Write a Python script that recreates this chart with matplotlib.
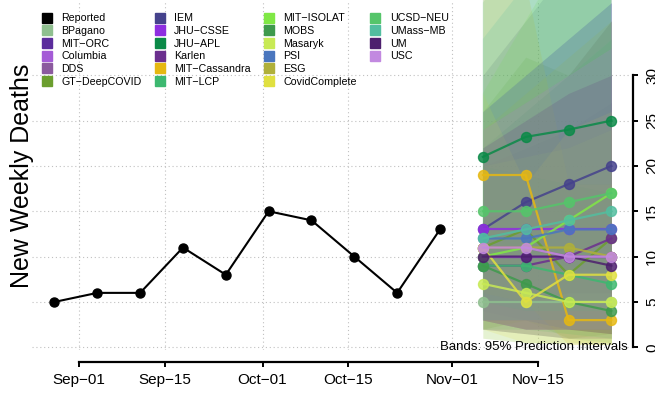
import numpy as np
import matplotlib
matplotlib.use("Agg")
import matplotlib.pyplot as plt
import matplotlib.dates as mdates
from matplotlib.lines import Line2D

plt.rcParams['font.family'] = ['Liberation Sans', 'DejaVu Sans']

# observed weekly deaths
obs_dates = np.array(['2020-08-28', '2020-09-04', '2020-09-11', '2020-09-18', '2020-09-25',
                      '2020-10-02', '2020-10-09', '2020-10-16', '2020-10-23', '2020-10-30'],
                     dtype='datetime64[D]')
obs_vals = [5, 6, 6, 11, 8, 15, 14, 10, 6, 13]

# forecast horizon
fc_dates = np.array(['2020-11-06', '2020-11-13', '2020-11-20', '2020-11-27'], dtype='datetime64[D]')

models = ['BPagano', 'MIT\u2212ORC', 'Columbia', 'DDS', 'GT\u2212DeepCOVID', 'IEM', 'JHU\u2212CSSE',
          'JHU\u2212APL', 'Karlen', 'MIT\u2212Cassandra', 'MIT\u2212LCP', 'MIT\u2212ISOLAT', 'MOBS',
          'Masaryk', 'PSI', 'ESG', 'CovidComplete', 'UCSD\u2212NEU', 'UMass\u2212MB', 'UM', 'USC']

colors = ['#8FBF8F', '#5B2C9C', '#A45BD6', '#8B5A9E', '#6B9E2E', '#45428C', '#8E2EE0',
          '#0B8A48', '#6B2F8E', '#E6B812', '#3DB870', '#80E845', '#3E9A4C',
          '#C8EA55', '#4A76BE', '#B0B03A', '#E0E040', '#55C56A', '#52BE9F', '#4D1F6E', '#C289E0']

point = [
    [5, 5, 5, 5],        # BPagano
    [10, 10, 10, 10],    # MIT-ORC
    [10, 10, 10, 10],    # Columbia
    [11, 11, 10, 10],    # DDS
    [11, 13, 8, 12],     # GT-DeepCOVID
    [13, 16, 18, 20],    # IEM
    [13, 13, 13, 13],    # JHU-CSSE
    [21, 23.2, 24, 25],  # JHU-APL
    [9, 9, 10, 12],      # Karlen
    [19, 19, 3, 3],      # MIT-Cassandra
    [9, 9, 8, 7],        # MIT-LCP
    [10, 11, 14, 17],    # MIT-ISOLAT
    [9, 7, 5, 4],        # MOBS
    [7, 6, 5, 5],        # Masaryk
    [12, 12, 13, 13],    # PSI
    [11, 11, 11, 10],    # ESG
    [11, 5, 8, 8],       # CovidComplete
    [15, 15, 16, 17],    # UCSD-NEU
    [12, 13, 14, 15],    # UMass-MB
    [10, 10, 10, 9],     # UM
    [11, 11, 10, 10],    # USC
]

lower = [
    [1, 0.5, 0.5, 0.3], [3, 2, 2, 1.5], [2, 1.5, 1, 1], [4, 3, 2, 2], [2, 3, 1, 1.5],
    [5, 5, 6, 6], [3, 2, 2, 1.5], [9, 9, 9, 8], [2, 1.5, 1, 1], [6, 5, 0.3, 0.3],
    [2, 2, 1.5, 1], [3, 2, 2, 2], [2, 1.5, 1, 0.5], [1, 0.5, 0.3, 0.3], [3, 3, 2, 2],
    [3, 2, 2, 1.5], [2, 0.5, 0.5, 0.5], [5, 4, 4, 4], [3, 3, 3, 3], [3, 2, 2, 1.5], [3, 2, 2, 2],
]

upper = [
    [14, 16, 18, 20], [20, 22, 24, 27], [26, 30, 34, 38], [24, 27, 30, 33], [26, 32, 30, 36],
    [30, 36, 42, 48], [26, 30, 34, 38], [45, 52, 58, 64], [22, 26, 30, 36], [40, 40, 18, 18],
    [22, 26, 30, 34], [28, 36, 44, 52], [20, 19, 18, 17], [20, 21, 22, 24], [26, 30, 34, 38],
    [24, 28, 32, 36], [28, 18, 24, 26], [38, 44, 50, 56], [34, 40, 46, 52], [22, 25, 28, 30],
    [24, 27, 30, 33],
]

fig = plt.figure(figsize=(6.55, 3.96), dpi=100)
ax = fig.add_axes([32 / 655, 46 / 396, 598 / 655, 350 / 396])

# prediction bands
for c, lo, hi in zip(colors, lower, upper):
    ax.fill_between(fc_dates, lo, hi, color=c, alpha=0.17, linewidth=0, zorder=2)

# forecast lines
for c, p in zip(colors, point):
    ax.plot(fc_dates, p, color=c, lw=1.6, marker='o', ms=7.2, alpha=0.85, zorder=4)

# reported
ax.plot(obs_dates, obs_vals, color='black', lw=1.5, marker='o', ms=6.5, zorder=5)

sep1 = np.datetime64('2020-09-01')
ax.set_xlim(sep1 - np.timedelta64(184, 'h'), sep1 + np.timedelta64(2161, 'h'))
ax.set_ylim(-0.3, 38.3)

xticks = np.array(['2020-09-01', '2020-09-15', '2020-10-01', '2020-10-15', '2020-11-01', '2020-11-15'],
                  dtype='datetime64[D]')
ax.set_xticks(xticks)
ax.xaxis.set_major_formatter(mdates.DateFormatter('%b\u2212%d'))
ax.set_yticks(range(0, 31, 5))

ax.grid(True, color='#c0c0c0', linestyle=(0, (1, 2.5)), lw=0.8, zorder=0)

for s in ['top', 'left']:
    ax.spines[s].set_visible(False)
ax.spines['bottom'].set_position(('outward', 8.6))
ax.spines['bottom'].set_bounds(mdates.date2num(xticks[0]), mdates.date2num(xticks[-1]))
ax.spines['right'].set_position(('outward', 2.2))
ax.spines['right'].set_bounds(0, 30)
for s in ['bottom', 'right']:
    ax.spines[s].set_linewidth(1.6)

ax.yaxis.tick_right()
ax.tick_params(axis='x', length=3.6, width=1.4, pad=4.5, labelsize=11)
ax.tick_params(axis='y', length=3.6, width=1.4, pad=5, labelsize=11)
for lab in ax.get_yticklabels():
    lab.set_rotation(90)
    lab.set_va('center')

fig.text(22 / 655, (396 - 176) / 396, 'New Weekly Deaths', rotation=90,
         ha='center', va='center', fontsize=18)

ax.text(0.9967, 0.0086, 'Bands: 95% Prediction Intervals', transform=ax.transAxes,
        ha='right', va='center', fontsize=9.5, zorder=6)

handles = [Line2D([], [], marker='s', ls='none', color='black', ms=6.6, label='Reported')]
for c, m in zip(colors, models):
    handles.append(Line2D([], [], marker='s', ls='none', color=c, ms=6.6, label=m))
# two empty slots so the columns split 6/6/6/4 like the original
for _ in range(2):
    handles.append(Line2D([], [], ls='none', label=' '))
ax.legend(handles=handles, loc='upper left', bbox_to_anchor=(0.0144, 0.962), ncol=4,
          frameon=False, fontsize=7.7, handlelength=1.2, handletextpad=0.75,
          columnspacing=1.1, labelspacing=0.25, borderpad=0, borderaxespad=0)

fig.savefig('out.png', dpi=100)
